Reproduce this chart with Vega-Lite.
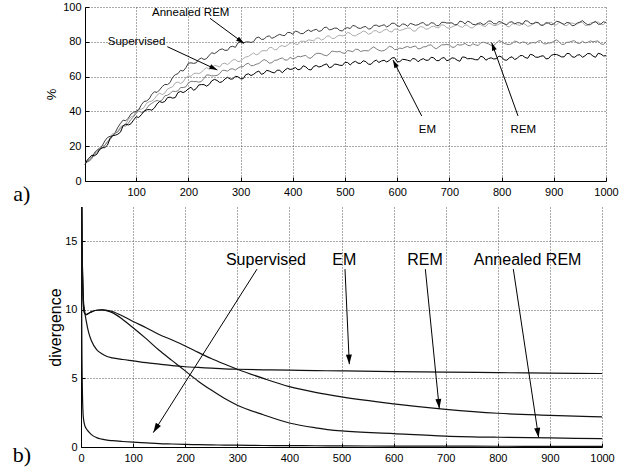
{
  "$schema": "https://vega.github.io/schema/vega-lite/v6.json",
  "background": "white",
  "padding": {"left": 12, "top": 1, "right": 2, "bottom": 2},
  "spacing": 1,
  "config": {
    "view": {"stroke": null},
    "font": "Liberation Sans",
    "axis": {
      "domainColor": "black", "domainWidth": 1, "tickColor": "black", "tickSize": -4, "tickWidth": 1,
      "labelColor": "black", "labelFontSize": 11, "labelFont": "Liberation Sans", "labelOverlap": false,
      "gridColor": "#555555", "gridDash": [1, 2], "gridWidth": 1, "grid": true,
      "titleColor": "black", "titleFont": "Liberation Sans", "titleFontWeight": "normal"
    }
  },
  "vconcat": [
    {
      "width": 525, "height": 174,
      "data": {"values": [
        {"label": "Annealed REM", "tx": 204.5, "ty": 96.7, "x1": 241.5, "y1": 93.5, "x2": 306.6, "y2": 79.1},
        {"label": "Supervised", "tx": 100.7, "ty": 80.1, "x1": 159.7, "y1": 77.2, "x2": 255.5, "y2": 63.8},
        {"label": "EM", "tx": 657.8, "ty": 29.3, "x1": 647, "y1": 37.4, "x2": 592, "y2": 69.5},
        {"label": "REM", "tx": 841.7, "ty": 29.3, "x1": 831.5, "y1": 37.4, "x2": 781, "y2": 79.5}
      ]},
      "layer": [
        {
          "data": {"values": [
            {"x":2,"ann":10.9,"sup":9.5,"rem":10.6,"em":9.3},
            {"x":10,"ann":11.9,"sup":13.1,"rem":11.3,"em":13.1},
            {"x":20,"ann":16.1,"sup":15.1,"rem":15.2,"em":14.5},
            {"x":30,"ann":17.9,"sup":19.3,"rem":18.8,"em":18.1},
            {"x":40,"ann":23.0,"sup":20.5,"rem":20.5,"em":19.2},
            {"x":50,"ann":25.7,"sup":24.9,"rem":23.8,"em":24.4},
            {"x":60,"ann":27.9,"sup":27.4,"rem":27.6,"em":26.3},
            {"x":70,"ann":33.1,"sup":31.2,"rem":30.2,"em":28.1},
            {"x":80,"ann":34.6,"sup":32.4,"rem":31.5,"em":32.7},
            {"x":90,"ann":38.5,"sup":36.8,"rem":35.4,"em":32.9},
            {"x":100,"ann":40.0,"sup":40.1,"rem":39.0,"em":36.9},
            {"x":110,"ann":43.8,"sup":41.2,"rem":39.5,"em":38.1},
            {"x":120,"ann":46.0,"sup":44.7,"rem":41.7,"em":40.9},
            {"x":130,"ann":49.8,"sup":45.9,"rem":44.6,"em":40.7},
            {"x":140,"ann":50.9,"sup":49.3,"rem":46.3,"em":44.3},
            {"x":150,"ann":54.3,"sup":49.6,"rem":46.6,"em":45.1},
            {"x":160,"ann":55.4,"sup":52.8,"rem":49.3,"em":47.9},
            {"x":170,"ann":59.7,"sup":54.2,"rem":51.7,"em":47.6},
            {"x":180,"ann":61.7,"sup":56.9,"rem":51.8,"em":50.8},
            {"x":190,"ann":63.2,"sup":57.0,"rem":53.7,"em":50.8},
            {"x":200,"ann":67.7,"sup":60.3,"rem":56.3,"em":53.0},
            {"x":210,"ann":67.6,"sup":61.7,"rem":57.2,"em":52.1},
            {"x":220,"ann":69.9,"sup":61.7,"rem":56.8,"em":55.2},
            {"x":230,"ann":69.8,"sup":64.1,"rem":59.0,"em":55.4},
            {"x":240,"ann":72.3,"sup":64.2,"rem":60.9,"em":55.5},
            {"x":250,"ann":73.2,"sup":66.5,"rem":60.5,"em":58.4},
            {"x":260,"ann":75.5,"sup":65.5,"rem":61.7,"em":56.6},
            {"x":270,"ann":75.1,"sup":67.7,"rem":63.6,"em":58.6},
            {"x":280,"ann":77.1,"sup":68.1,"rem":64.3,"em":58.6},
            {"x":290,"ann":76.8,"sup":69.8,"rem":63.7,"em":60.2},
            {"x":300,"ann":79.7,"sup":68.9,"rem":65.7,"em":58.8},
            {"x":310,"ann":79.9,"sup":71.3,"rem":67.1,"em":61.1},
            {"x":320,"ann":79.6,"sup":72.6,"rem":66.2,"em":60.6},
            {"x":330,"ann":82.3,"sup":72.5,"rem":67.1,"em":62.5},
            {"x":340,"ann":81.4,"sup":74.8,"rem":68.7,"em":61.3},
            {"x":350,"ann":83.0,"sup":74.8,"rem":69.1,"em":63.6},
            {"x":360,"ann":82.0,"sup":76.8,"rem":68.0,"em":62.5},
            {"x":370,"ann":83.6,"sup":75.7,"rem":69.5,"em":63.7},
            {"x":380,"ann":83.7,"sup":77.8,"rem":70.7,"em":62.2},
            {"x":390,"ann":85.4,"sup":78.1,"rem":69.6,"em":64.8},
            {"x":400,"ann":84.4,"sup":79.7,"rem":70.3,"em":64.4},
            {"x":410,"ann":85.7,"sup":78.4,"rem":71.7,"em":63.9},
            {"x":420,"ann":84.7,"sup":80.3,"rem":71.9,"em":66.2},
            {"x":430,"ann":86.8,"sup":81.1,"rem":70.7,"em":64.1},
            {"x":440,"ann":86.7,"sup":80.4,"rem":72.2,"em":65.8},
            {"x":450,"ann":86.0,"sup":82.2,"rem":73.4,"em":65.5},
            {"x":460,"ann":88.2,"sup":81.7,"rem":72.3,"em":66.8},
            {"x":470,"ann":86.8,"sup":83.4,"rem":73.0,"em":65.1},
            {"x":480,"ann":87.9,"sup":82.0,"rem":74.4,"em":67.2},
            {"x":490,"ann":86.5,"sup":83.8,"rem":74.5,"em":66.5},
            {"x":500,"ann":87.8,"sup":83.8,"rem":73.4,"em":68.2},
            {"x":510,"ann":87.6,"sup":84.9,"rem":74.7,"em":66.7},
            {"x":520,"ann":89.0,"sup":83.4,"rem":75.7,"em":68.8},
            {"x":530,"ann":87.7,"sup":85.1,"rem":74.4,"em":67.6},
            {"x":540,"ann":88.8,"sup":85.7,"rem":74.9,"em":68.6},
            {"x":550,"ann":87.6,"sup":84.9,"rem":76.1,"em":67.1},
            {"x":560,"ann":89.6,"sup":86.4,"rem":76.0,"em":69.5},
            {"x":570,"ann":89.3,"sup":85.7,"rem":74.7,"em":69.0},
            {"x":580,"ann":88.5,"sup":87.2,"rem":76.0,"em":68.4},
            {"x":590,"ann":90.7,"sup":85.6,"rem":77.0,"em":70.7},
            {"x":600,"ann":89.3,"sup":87.2,"rem":75.7,"em":68.5},
            {"x":610,"ann":90.3,"sup":86.9,"rem":76.1,"em":69.9},
            {"x":620,"ann":88.9,"sup":87.9,"rem":77.3,"em":69.4},
            {"x":630,"ann":90.1,"sup":86.3,"rem":77.2,"em":70.4},
            {"x":640,"ann":89.8,"sup":87.9,"rem":75.9,"em":68.5},
            {"x":650,"ann":91.1,"sup":88.4,"rem":77.1,"em":70.3},
            {"x":660,"ann":89.7,"sup":87.5,"rem":78.0,"em":69.4},
            {"x":670,"ann":90.7,"sup":89.0,"rem":76.7,"em":70.8},
            {"x":680,"ann":89.3,"sup":88.1,"rem":77.1,"em":69.2},
            {"x":690,"ann":91.2,"sup":89.5,"rem":78.3,"em":71.0},
            {"x":700,"ann":90.8,"sup":87.8,"rem":78.2,"em":69.6},
            {"x":710,"ann":89.8,"sup":89.2,"rem":76.9,"em":70.5},
            {"x":720,"ann":91.9,"sup":88.8,"rem":78.1,"em":68.8},
            {"x":730,"ann":90.3,"sup":89.7,"rem":79.1,"em":71.1},
            {"x":740,"ann":91.2,"sup":88.0,"rem":77.7,"em":70.4},
            {"x":750,"ann":89.8,"sup":89.5,"rem":78.2,"em":69.7},
            {"x":760,"ann":90.9,"sup":89.9,"rem":79.3,"em":71.7},
            {"x":770,"ann":90.5,"sup":88.9,"rem":79.3,"em":69.4},
            {"x":780,"ann":91.8,"sup":90.3,"rem":77.9,"em":70.8},
            {"x":790,"ann":90.3,"sup":89.4,"rem":79.2,"em":70.3},
            {"x":800,"ann":91.2,"sup":90.7,"rem":80.1,"em":71.3},
            {"x":810,"ann":89.8,"sup":88.9,"rem":78.6,"em":69.4},
            {"x":820,"ann":91.5,"sup":90.2,"rem":79.0,"em":71.4},
            {"x":830,"ann":91.0,"sup":89.8,"rem":80.0,"em":70.5},
            {"x":840,"ann":90.0,"sup":90.6,"rem":79.9,"em":72.1},
            {"x":850,"ann":91.9,"sup":88.9,"rem":78.4,"em":70.5},
            {"x":860,"ann":90.3,"sup":90.3,"rem":79.6,"em":72.4},
            {"x":870,"ann":91.2,"sup":90.7,"rem":80.4,"em":71.1},
            {"x":880,"ann":89.6,"sup":89.6,"rem":78.9,"em":72.0},
            {"x":890,"ann":90.7,"sup":91.0,"rem":79.3,"em":70.4},
            {"x":900,"ann":90.3,"sup":90.0,"rem":80.3,"em":72.7},
            {"x":910,"ann":91.5,"sup":91.2,"rem":80.1,"em":72.1},
            {"x":920,"ann":90.0,"sup":89.4,"rem":78.6,"em":71.4},
            {"x":930,"ann":90.9,"sup":90.7,"rem":79.8,"em":73.2},
            {"x":940,"ann":89.5,"sup":90.3,"rem":80.6,"em":71.1},
            {"x":950,"ann":91.3,"sup":91.1,"rem":79.1,"em":72.6},
            {"x":960,"ann":90.8,"sup":89.4,"rem":79.4,"em":72.0},
            {"x":970,"ann":89.8,"sup":90.8,"rem":80.5,"em":73.1},
            {"x":980,"ann":91.8,"sup":91.1,"rem":80.3,"em":71.1},
            {"x":990,"ann":90.2,"sup":90.1,"rem":78.8,"em":73.0},
            {"x":1000,"ann":91.1,"sup":91.4,"rem":79.9,"em":72.0},
            {"x":6,"ann":10.9,"sup":11.8,"rem":11.2,"em":11.9},
            {"x":15,"ann":13.3,"sup":14.7,"rem":12.9,"em":14.8},
            {"x":25,"ann":17.9,"sup":16.4,"rem":17.9,"em":15.5},
            {"x":35,"ann":20.3,"sup":20.2,"rem":18.8,"em":19.1},
            {"x":45,"ann":25.0,"sup":22.3,"rem":22.7,"em":20.6},
            {"x":55,"ann":25.8,"sup":27.2,"rem":25.9,"em":26.1},
            {"x":65,"ann":30.9,"sup":28.7,"rem":28.2,"em":26.9},
            {"x":75,"ann":35.0,"sup":31.9,"rem":31.9,"em":31.7},
            {"x":85,"ann":36.1,"sup":35.4,"rem":33.2,"em":32.2},
            {"x":95,"ann":39.5,"sup":37.5,"rem":36.8,"em":35.0},
            {"x":105,"ann":41.0,"sup":41.3,"rem":40.2,"em":36.5},
            {"x":115,"ann":45.7,"sup":42.2,"rem":39.7,"em":40.1},
            {"x":125,"ann":47.2,"sup":45.6,"rem":43.7,"em":41.1},
            {"x":135,"ann":51.3,"sup":47.2,"rem":45.7,"em":42.0},
            {"x":145,"ann":52.4,"sup":50.5,"rem":45.8,"em":45.7},
            {"x":155,"ann":55.5,"sup":50.6,"rem":49.0,"em":45.7},
            {"x":165,"ann":56.6,"sup":53.6,"rem":50.2,"em":48.2},
            {"x":175,"ann":61.1,"sup":56.4,"rem":51.4,"em":48.0},
            {"x":185,"ann":63.6,"sup":56.0,"rem":53.7,"em":51.5},
            {"x":195,"ann":65.0,"sup":59.3,"rem":54.1,"em":51.6},
            {"x":205,"ann":67.9,"sup":60.2,"rem":57.3,"em":53.9},
            {"x":215,"ann":67.9,"sup":62.0,"rem":57.2,"em":53.1},
            {"x":225,"ann":70.7,"sup":62.5,"rem":57.2,"em":55.4},
            {"x":235,"ann":70.4,"sup":65.2,"rem":61.0,"em":54.5},
            {"x":245,"ann":73.7,"sup":64.8,"rem":60.4,"em":57.6},
            {"x":255,"ann":74.2,"sup":66.1,"rem":60.7,"em":57.8},
            {"x":265,"ann":75.9,"sup":67.4,"rem":63.6,"em":57.1},
            {"x":275,"ann":75.1,"sup":66.9,"rem":63.1,"em":59.6},
            {"x":285,"ann":77.4,"sup":69.6,"rem":64.5,"em":58.6},
            {"x":295,"ann":79.4,"sup":68.6,"rem":64.9,"em":59.9},
            {"x":305,"ann":79.3,"sup":70.4,"rem":65.7,"em":58.8},
            {"x":315,"ann":80.0,"sup":71.6,"rem":67.7,"em":61.6},
            {"x":325,"ann":80.1,"sup":73.6,"rem":66.4,"em":61.3},
            {"x":335,"ann":82.7,"sup":73.1,"rem":67.5,"em":63.2},
            {"x":345,"ann":81.5,"sup":74.9,"rem":69.8,"em":61.9},
            {"x":355,"ann":83.4,"sup":76.6,"rem":67.7,"em":63.2},
            {"x":365,"ann":82.6,"sup":75.3,"rem":69.3,"em":62.1},
            {"x":375,"ann":84.3,"sup":77.4,"rem":70.3,"em":63.6},
            {"x":385,"ann":83.6,"sup":77.2,"rem":69.5,"em":63.8},
            {"x":395,"ann":85.3,"sup":79.2,"rem":71.0,"em":64.1},
            {"x":405,"ann":86.2,"sup":78.7,"rem":70.7,"em":65.2},
            {"x":415,"ann":84.7,"sup":80.4,"rem":71.4,"em":64.3},
            {"x":425,"ann":86.0,"sup":80.1,"rem":72.2,"em":65.6},
            {"x":435,"ann":85.9,"sup":80.9,"rem":70.6,"em":63.8},
            {"x":445,"ann":87.2,"sup":82.1,"rem":73.3,"em":66.4},
            {"x":455,"ann":86.4,"sup":81.0,"rem":73.1,"em":65.9},
            {"x":465,"ann":88.4,"sup":83.2,"rem":72.0,"em":67.3},
            {"x":475,"ann":87.2,"sup":81.9,"rem":74.7,"em":65.6},
            {"x":485,"ann":87.8,"sup":83.2,"rem":74.2,"em":67.0},
            {"x":495,"ann":86.2,"sup":83.4,"rem":73.6,"em":66.4},
            {"x":505,"ann":88.1,"sup":85.4,"rem":75.0,"em":68.1},
            {"x":515,"ann":89.4,"sup":83.6,"rem":74.3,"em":68.1},
            {"x":525,"ann":87.9,"sup":84.4,"rem":75.6,"em":67.7},
            {"x":535,"ann":88.5,"sup":86.2,"rem":74.9,"em":69.1},
            {"x":545,"ann":87.3,"sup":84.3,"rem":74.8,"em":67.1},
            {"x":555,"ann":89.4,"sup":86.3,"rem":77.1,"em":68.7},
            {"x":565,"ann":88.8,"sup":85.3,"rem":75.1,"em":68.1},
            {"x":575,"ann":89.8,"sup":86.8,"rem":75.0,"em":69.4},
            {"x":585,"ann":89.4,"sup":86.0,"rem":77.4,"em":69.3},
            {"x":595,"ann":90.6,"sup":87.4,"rem":75.5,"em":70.9},
            {"x":605,"ann":88.8,"sup":86.5,"rem":76.4,"em":68.6},
            {"x":615,"ann":90.0,"sup":87.5,"rem":76.9,"em":69.8},
            {"x":625,"ann":90.6,"sup":87.9,"rem":76.6,"em":68.9},
            {"x":635,"ann":89.5,"sup":86.1,"rem":77.6,"em":70.1},
            {"x":645,"ann":90.7,"sup":88.8,"rem":76.2,"em":69.7},
            {"x":655,"ann":89.5,"sup":87.2,"rem":77.2,"em":69.4},
            {"x":665,"ann":91.0,"sup":88.6,"rem":78.3,"em":71.1},
            {"x":675,"ann":89.3,"sup":88.2,"rem":76.0,"em":69.2},
            {"x":685,"ann":91.2,"sup":89.8,"rem":78.2,"em":70.5},
            {"x":695,"ann":90.8,"sup":88.1,"rem":78.5,"em":69.1},
            {"x":705,"ann":90.9,"sup":88.6,"rem":76.9,"em":70.8},
            {"x":715,"ann":89.9,"sup":89.8,"rem":78.5,"em":69.4},
            {"x":725,"ann":91.5,"sup":88.3,"rem":78.3,"em":71.3},
            {"x":735,"ann":91.9,"sup":89.5,"rem":78.0,"em":70.2},
            {"x":745,"ann":90.0,"sup":88.0,"rem":78.9,"em":70.2},
            {"x":755,"ann":90.6,"sup":90.0,"rem":77.9,"em":69.7},
            {"x":765,"ann":89.8,"sup":89.0,"rem":79.8,"em":71.2},
            {"x":775,"ann":92.0,"sup":90.6,"rem":78.8,"em":70.4},
            {"x":785,"ann":90.4,"sup":89.3,"rem":77.9,"em":70.1},
            {"x":795,"ann":91.7,"sup":90.2,"rem":80.7,"em":71.8},
            {"x":805,"ann":90.3,"sup":90.6,"rem":79.1,"em":69.6},
            {"x":815,"ann":91.3,"sup":88.6,"rem":78.4,"em":70.8},
            {"x":825,"ann":90.3,"sup":90.6,"rem":80.4,"em":69.8},
            {"x":835,"ann":90.9,"sup":89.4,"rem":79.1,"em":72.0},
            {"x":845,"ann":92.1,"sup":90.1,"rem":79.7,"em":71.0},
            {"x":855,"ann":90.6,"sup":89.2,"rem":79.2,"em":72.8},
            {"x":865,"ann":91.0,"sup":91.5,"rem":79.3,"em":71.2},
            {"x":875,"ann":89.5,"sup":89.6,"rem":80.7,"em":71.7},
            {"x":885,"ann":91.0,"sup":90.4,"rem":78.8,"em":70.2},
            {"x":895,"ann":89.8,"sup":91.3,"rem":79.4,"em":72.2},
            {"x":905,"ann":91.8,"sup":89.6,"rem":81.1,"em":72.7},
            {"x":915,"ann":90.6,"sup":90.9,"rem":78.5,"em":71.3},
            {"x":925,"ann":91.1,"sup":89.3,"rem":79.7,"em":73.3},
            {"x":935,"ann":89.2,"sup":90.8,"rem":80.4,"em":71.4},
            {"x":945,"ann":90.8,"sup":90.3,"rem":79.2,"em":72.3},
            {"x":955,"ann":92.2,"sup":91.3,"rem":80.3,"em":71.1},
            {"x":965,"ann":89.8,"sup":89.5,"rem":79.7,"em":73.3},
            {"x":975,"ann":91.0,"sup":91.1,"rem":80.0,"em":71.8},
            {"x":985,"ann":90.1,"sup":91.4,"rem":80.5,"em":73.4},
            {"x":995,"ann":91.5,"sup":89.8,"rem":78.5,"em":71.9}
          ]},
          "transform": [{"fold": ["sup", "ann", "rem", "em"], "as": ["series", "pct"]}],
          "mark": {"type": "line", "strokeWidth": 1, "clip": true},
          "encoding": {
            "x": {"field": "x", "type": "quantitative",
                  "scale": {"domain": [2, 1000], "range": [4, 525], "nice": false, "zero": false},
                  "axis": {"values": [100, 200, 300, 400, 500, 600, 700, 800, 900, 1000], "tickCount": 20, "format": "d", "title": null, "labelPadding": 9, "labelFlush": false, "labelOverlap": false}},
            "y": {"field": "pct", "type": "quantitative",
                  "scale": {"domain": [0, 100], "nice": false},
                  "axis": {"values": [0, 20, 40, 60, 80, 100], "tickCount": 10, "format": "d", "title": "%", "titleFontSize": 13, "titlePadding": 4, "labelPadding": 8, "offset": -4, "labelOverlap": false, "labelFlush": false}},
            "color": {"field": "series", "type": "nominal",
                      "scale": {"domain": ["ann", "sup", "rem", "em"], "range": ["#3c3c3c", "#ababab", "#7c7c7c", "#000000"]},
                      "legend": null}
          }
        },
        {
          "mark": {"type": "rule", "color": "black", "strokeWidth": 1},
          "encoding": {
            "x": {"field": "x1", "type": "quantitative", "scale": {"domain": [2, 1000], "range": [4, 525], "nice": false, "zero": false}},
            "y": {"field": "y1", "type": "quantitative", "scale": {"domain": [0, 100], "nice": false}},
            "x2": {"field": "x2"},
            "y2": {"field": "y2"}
          }
        },
        {
          "transform": [{"filter": "datum.label === 'Annealed REM'"}],
          "mark": {"type": "point", "shape": "M0,0L0.5,1.6L-0.5,1.6Z", "angle": 126, "filled": true, "color": "black", "opacity": 1, "size": 100},
          "encoding": {
            "x": {"field": "x2", "type": "quantitative", "scale": {"domain": [2, 1000], "range": [4, 525], "nice": false, "zero": false}},
            "y": {"field": "y2", "type": "quantitative", "scale": {"domain": [0, 100], "nice": false}}
          }
        },
        {
          "transform": [{"filter": "datum.label === 'Supervised'"}],
          "mark": {"type": "point", "shape": "M0,0L0.5,1.6L-0.5,1.6Z", "angle": 115, "filled": true, "color": "black", "opacity": 1, "size": 100},
          "encoding": {
            "x": {"field": "x2", "type": "quantitative", "scale": {"domain": [2, 1000], "range": [4, 525], "nice": false, "zero": false}},
            "y": {"field": "y2", "type": "quantitative", "scale": {"domain": [0, 100], "nice": false}}
          }
        },
        {
          "transform": [{"filter": "datum.label === 'EM'"}],
          "mark": {"type": "point", "shape": "M0,0L0.5,1.6L-0.5,1.6Z", "angle": 333, "filled": true, "color": "black", "opacity": 1, "size": 100},
          "encoding": {
            "x": {"field": "x2", "type": "quantitative", "scale": {"domain": [2, 1000], "range": [4, 525], "nice": false, "zero": false}},
            "y": {"field": "y2", "type": "quantitative", "scale": {"domain": [0, 100], "nice": false}}
          }
        },
        {
          "transform": [{"filter": "datum.label === 'REM'"}],
          "mark": {"type": "point", "shape": "M0,0L0.5,1.6L-0.5,1.6Z", "angle": 340, "filled": true, "color": "black", "opacity": 1, "size": 100},
          "encoding": {
            "x": {"field": "x2", "type": "quantitative", "scale": {"domain": [2, 1000], "range": [4, 525], "nice": false, "zero": false}},
            "y": {"field": "y2", "type": "quantitative", "scale": {"domain": [0, 100], "nice": false}}
          }
        },
        {
          "mark": {"type": "text", "font": "Liberation Sans", "fontSize": 11.5, "color": "black", "align": "center", "baseline": "middle"},
          "encoding": {
            "x": {"field": "tx", "type": "quantitative", "scale": {"domain": [2, 1000], "range": [4, 525], "nice": false, "zero": false}},
            "y": {"field": "ty", "type": "quantitative", "scale": {"domain": [0, 100], "nice": false}},
            "text": {"field": "label"}
          }
        },
        {
          "data": {"values": [{"px": -119, "py": -11.5, "t": "a)"}]},
          "mark": {"type": "text", "font": "Liberation Serif", "fontSize": 22, "color": "black", "align": "center", "baseline": "alphabetic"},
          "encoding": {
            "x": {"field": "px", "type": "quantitative", "scale": {"domain": [2, 1000], "range": [4, 525], "nice": false, "zero": false}},
            "y": {"field": "py", "type": "quantitative", "scale": {"domain": [0, 100], "nice": false}},
            "text": {"field": "t"}
          }
        }
      ]
    },
    {
      "width": 521, "height": 240,
      "data": {"values": [
        {"label": "Supervised", "tx": 355, "ty": 13.65, "x1": 337.8, "y1": 12.97, "x2": 138.8, "y2": 1.05},
        {"label": "EM", "tx": 505.4, "ty": 13.65, "x1": 506.7, "y1": 12.97, "x2": 515, "y2": 6.04},
        {"label": "REM", "tx": 660.3, "ty": 13.65, "x1": 660.9, "y1": 12.97, "x2": 687.7, "y2": 2.8},
        {"label": "Annealed REM", "tx": 857.2, "ty": 13.65, "x1": 829.8, "y1": 12.97, "x2": 878.3, "y2": 0.69}
      ]},
      "layer": [
        {
          "data": {"values": [
            {"x":0,"ann":30,"sup":30,"rem":30,"em":30},
            {"x":1,"ann":20,"sup":12,"rem":20,"em":20},
            {"x":2,"ann":15,"sup":6,"rem":15,"em":15},
            {"x":3,"ann":12.5,"sup":3.5,"rem":12.5,"em":12.5},
            {"x":4,"ann":11,"sup":2.4,"rem":11,"em":11.2},
            {"x":5,"ann":10.2,"sup":2.0,"rem":10.2,"em":10.5},
            {"x":7,"ann":9.75,"sup":1.6,"rem":9.75,"em":9.9},
            {"x":10,"ann":9.65,"sup":1.35,"rem":9.65,"em":9.2},
            {"x":15,"ann":9.75,"sup":1.1,"rem":9.75,"em":8.3},
            {"x":20,"ann":9.85,"sup":0.9,"rem":9.85,"em":7.75},
            {"x":30,"ann":9.97,"sup":0.68,"rem":9.97,"em":7.1},
            {"x":40,"ann":10.0,"sup":0.57,"rem":10.0,"em":6.8},
            {"x":50,"ann":9.93,"sup":0.5,"rem":9.97,"em":6.6},
            {"x":60,"ann":9.8,"sup":0.46,"rem":9.88,"em":6.5},
            {"x":80,"ann":9.3,"sup":0.4,"rem":9.55,"em":6.38},
            {"x":100,"ann":8.7,"sup":0.35,"rem":9.15,"em":6.28},
            {"x":125,"ann":7.9,"sup":0.3,"rem":8.7,"em":6.15},
            {"x":150,"ann":7.05,"sup":0.25,"rem":8.2,"em":6.04},
            {"x":175,"ann":6.3,"sup":0.22,"rem":7.8,"em":5.93},
            {"x":200,"ann":5.55,"sup":0.19,"rem":7.37,"em":5.85},
            {"x":225,"ann":4.8,"sup":0.17,"rem":6.9,"em":5.8},
            {"x":250,"ann":4.15,"sup":0.15,"rem":6.45,"em":5.75},
            {"x":275,"ann":3.55,"sup":0.14,"rem":6.05,"em":5.7},
            {"x":300,"ann":3.05,"sup":0.13,"rem":5.67,"em":5.67},
            {"x":350,"ann":2.35,"sup":0.11,"rem":5.0,"em":5.63},
            {"x":400,"ann":1.75,"sup":0.1,"rem":4.4,"em":5.6},
            {"x":450,"ann":1.4,"sup":0.09,"rem":3.98,"em":5.57},
            {"x":500,"ann":1.17,"sup":0.08,"rem":3.65,"em":5.55},
            {"x":600,"ann":0.98,"sup":0.07,"rem":3.15,"em":5.5},
            {"x":700,"ann":0.8,"sup":0.06,"rem":2.75,"em":5.46},
            {"x":800,"ann":0.71,"sup":0.055,"rem":2.46,"em":5.42},
            {"x":900,"ann":0.66,"sup":0.05,"rem":2.31,"em":5.39},
            {"x":1000,"ann":0.61,"sup":0.05,"rem":2.19,"em":5.36}
          ]},
          "transform": [{"fold": ["ann", "sup", "rem", "em"], "as": ["series", "div"]}],
          "mark": {"type": "line", "strokeWidth": 1.2, "clip": true, "interpolate": "monotone", "color": "#111111"},
          "encoding": {
            "x": {"field": "x", "type": "quantitative",
                  "scale": {"domain": [0, 1000], "nice": false, "zero": false},
                  "axis": {"values": [0, 100, 200, 300, 400, 500, 600, 700, 800, 900, 1000], "tickCount": 20, "format": "d", "title": null, "labelPadding": 9, "labelFlush": false, "labelOverlap": false}},
            "y": {"field": "div", "type": "quantitative",
                  "scale": {"domain": [0, 17.5], "nice": false},
                  "axis": {"values": [0, 5, 10, 15], "tickCount": 10, "title": "divergence", "titleFontSize": 16, "titlePadding": 1, "labelPadding": 8, "labelOverlap": false}},
            "detail": {"field": "series", "type": "nominal"}
          }
        },
        {
          "mark": {"type": "rule", "color": "black", "strokeWidth": 1},
          "encoding": {
            "x": {"field": "x1", "type": "quantitative", "scale": {"domain": [0, 1000], "nice": false, "zero": false}},
            "y": {"field": "y1", "type": "quantitative", "scale": {"domain": [0, 17.5], "nice": false}},
            "x2": {"field": "x2"},
            "y2": {"field": "y2"}
          }
        },
        {
          "transform": [{"filter": "datum.label === 'Supervised'"}],
          "mark": {"type": "point", "shape": "M0,0L0.5,1.6L-0.5,1.6Z", "angle": 212, "filled": true, "color": "black", "opacity": 1, "size": 144},
          "encoding": {
            "x": {"field": "x2", "type": "quantitative", "scale": {"domain": [0, 1000], "nice": false, "zero": false}},
            "y": {"field": "y2", "type": "quantitative", "scale": {"domain": [0, 17.5], "nice": false}}
          }
        },
        {
          "transform": [{"filter": "datum.label === 'EM'"}],
          "mark": {"type": "point", "shape": "M0,0L0.5,1.6L-0.5,1.6Z", "angle": 177.4, "filled": true, "color": "black", "opacity": 1, "size": 144},
          "encoding": {
            "x": {"field": "x2", "type": "quantitative", "scale": {"domain": [0, 1000], "nice": false, "zero": false}},
            "y": {"field": "y2", "type": "quantitative", "scale": {"domain": [0, 17.5], "nice": false}}
          }
        },
        {
          "transform": [{"filter": "datum.label === 'REM'"}],
          "mark": {"type": "point", "shape": "M0,0L0.5,1.6L-0.5,1.6Z", "angle": 174.3, "filled": true, "color": "black", "opacity": 1, "size": 144},
          "encoding": {
            "x": {"field": "x2", "type": "quantitative", "scale": {"domain": [0, 1000], "nice": false, "zero": false}},
            "y": {"field": "y2", "type": "quantitative", "scale": {"domain": [0, 17.5], "nice": false}}
          }
        },
        {
          "transform": [{"filter": "datum.label === 'Annealed REM'"}],
          "mark": {"type": "point", "shape": "M0,0L0.5,1.6L-0.5,1.6Z", "angle": 171.5, "filled": true, "color": "black", "opacity": 1, "size": 144},
          "encoding": {
            "x": {"field": "x2", "type": "quantitative", "scale": {"domain": [0, 1000], "nice": false, "zero": false}},
            "y": {"field": "y2", "type": "quantitative", "scale": {"domain": [0, 17.5], "nice": false}}
          }
        },
        {
          "mark": {"type": "text", "font": "Liberation Sans", "fontSize": 16, "color": "black", "align": "center", "baseline": "middle"},
          "encoding": {
            "x": {"field": "tx", "type": "quantitative", "scale": {"domain": [0, 1000], "nice": false, "zero": false}},
            "y": {"field": "ty", "type": "quantitative", "scale": {"domain": [0, 17.5], "nice": false}},
            "text": {"field": "label"}
          }
        },
        {
          "data": {"values": [{"px": -113.6, "py": -1.1, "t": "b)"}]},
          "mark": {"type": "text", "font": "Liberation Serif", "fontSize": 22, "color": "black", "align": "center", "baseline": "alphabetic"},
          "encoding": {
            "x": {"field": "px", "type": "quantitative", "scale": {"domain": [0, 1000], "nice": false, "zero": false}},
            "y": {"field": "py", "type": "quantitative", "scale": {"domain": [0, 17.5], "nice": false}},
            "text": {"field": "t"}
          }
        }
      ]
    }
  ]
}
